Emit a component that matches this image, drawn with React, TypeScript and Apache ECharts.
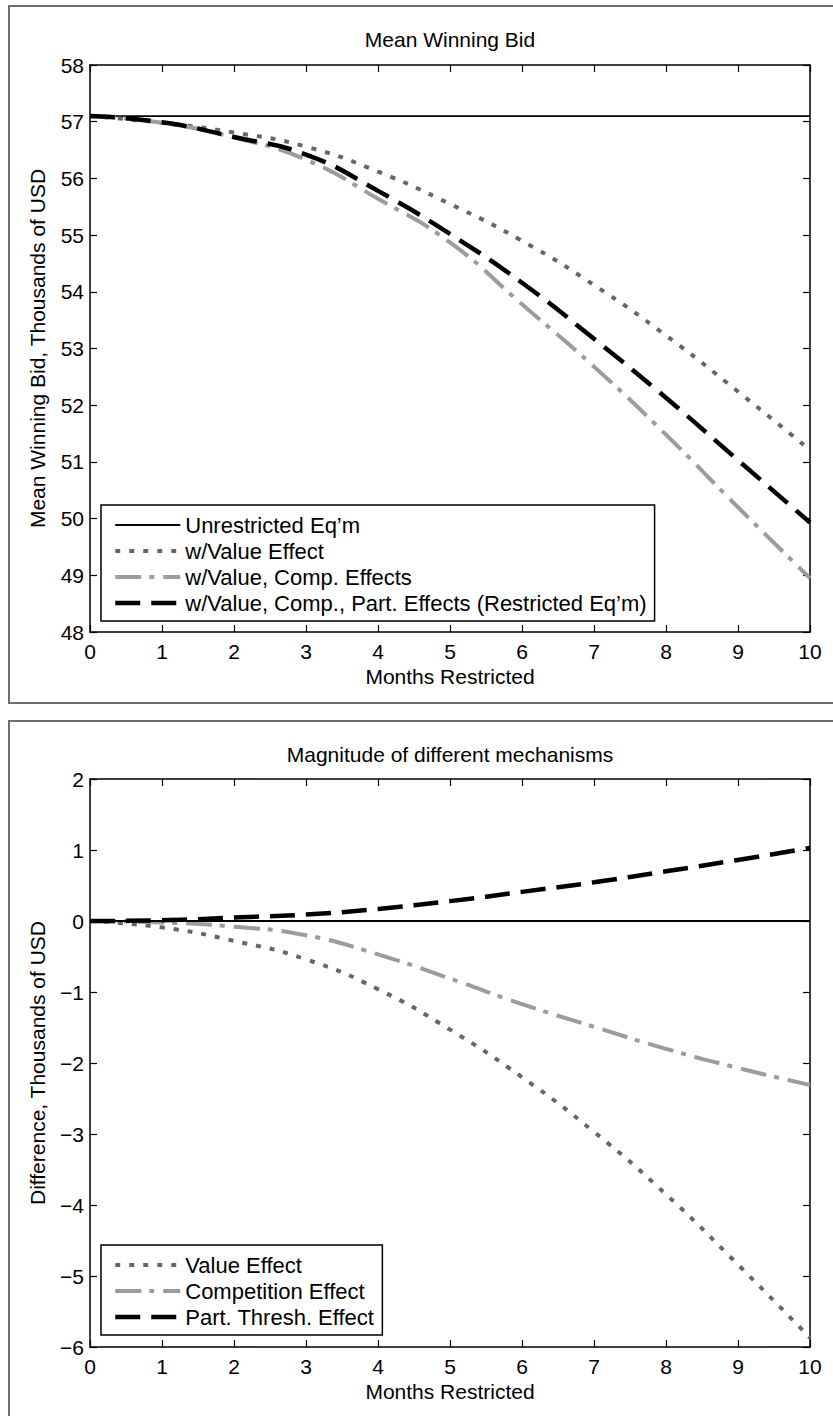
import React, { useEffect, useRef } from "react";
import * as echarts from "echarts";

// Months of restriction (x values shared by both panels)
const months = [0, 1, 2, 3, 4, 5, 6, 7, 8, 9, 10];

// Panel 1: mean winning bid, thousands of USD
const unrestricted = [57.1, 57.1, 57.1, 57.1, 57.1, 57.1, 57.1, 57.1, 57.1, 57.1, 57.1];
const withValue = [57.1, 56.98, 56.81, 56.56, 56.12, 55.55, 54.9, 54.12, 53.23, 52.24, 51.21];
const withValueComp = [57.1, 56.98, 56.72, 56.33, 55.64, 54.87, 53.78, 52.68, 51.48, 50.2, 48.95];
const restrictedEqm = [57.1, 56.99, 56.73, 56.42, 55.78, 55.02, 54.16, 53.17, 52.13, 51.03, 49.93];

// Panel 2: magnitude of the separate mechanisms, thousands of USD
const valueEffect = [0, -0.09, -0.28, -0.54, -0.96, -1.53, -2.2, -2.97, -3.85, -4.84, -5.87];
const competitionEffect = [0, -0.02, -0.08, -0.2, -0.47, -0.81, -1.17, -1.49, -1.8, -2.07, -2.31];
const partThreshEffect = [0, 0.01, 0.05, 0.09, 0.17, 0.28, 0.41, 0.545, 0.7, 0.86, 1.03];

const xTicks = { min: 0, max: 10, interval: 1 };
const y1Ticks = { min: 48, max: 58, interval: 1 };
const y2Ticks = { min: -6, max: 2, interval: 1 };

const FONT = "'Liberation Sans', Arial, Helvetica, sans-serif";

const pairs = (ys: number[]) => months.map((m, i) => [m, ys[i]]);

const solidBlack = { color: "#000", width: 1.8, type: "solid" as const };
const dottedGray = { color: "#666666", width: 4, type: [5, 9] };
const dashDotGray = { color: "#9c9c9c", width: 4, type: [26, 8, 5, 9] };
const dashedBlack = { color: "#000", width: 4.5, type: [25, 11] };

export default function App() {
  const ref = useRef<HTMLDivElement>(null);

  useEffect(() => {
    if (!ref.current) return;
    const chart = echarts.init(ref.current, undefined, { renderer: "svg" });

    const axisLine = { show: true, onZero: false, lineStyle: { color: "#000", width: 1.5 } };
    const tick = { show: true, inside: true, length: 7, lineStyle: { color: "#000", width: 1.2 } };
    const tickLabel = { fontSize: 21, color: "#000", fontFamily: FONT };
    const minus = (v: number) => String(v).replace("-", "\u2212");

    const xAxisPair = (gridIndex: number) => [
      {
        gridIndex,
        type: "value",
        position: "bottom",
        ...xTicks,
        axisLine,
        axisTick: tick,
        splitLine: { show: false },
        axisLabel: { ...tickLabel, margin: 9 },
        name: "Months Restricted",
        nameLocation: "middle",
        nameGap: 34,
        nameTextStyle: { fontSize: 21, color: "#000", fontFamily: FONT },
      },
      {
        gridIndex,
        type: "value",
        position: "top",
        ...xTicks,
        axisLine,
        axisTick: tick,
        splitLine: { show: false },
        axisLabel: { show: false },
      },
    ];

    const yAxisPair = (gridIndex: number, range: any, name: string) => [
      {
        gridIndex,
        type: "value",
        position: "left",
        ...range,
        axisLine,
        axisTick: tick,
        splitLine: { show: false },
        axisLabel: { ...tickLabel, margin: 6, formatter: minus },
        name,
        nameLocation: "middle",
        nameGap: 42,
        nameTextStyle: { fontSize: 21, color: "#000", fontFamily: FONT },
      },
      {
        gridIndex,
        type: "value",
        position: "right",
        ...range,
        axisLine,
        axisTick: tick,
        splitLine: { show: false },
        axisLabel: { show: false },
      },
    ];

    const lineSeries = (name: string, ys: number[], style: any, axisIdx: number, extra: any = {}) => ({
      name,
      type: "line",
      xAxisIndex: axisIdx,
      yAxisIndex: axisIdx,
      data: pairs(ys),
      symbol: "none",
      showSymbol: false,
      smooth: 0.5,
      lineStyle: { ...style, cap: "butt" },
      itemStyle: { color: style.color },
      emphasis: { disabled: true },
      ...extra,
    });

    const legendBase = {
      orient: "vertical",
      itemWidth: 65,
      itemHeight: 14,
      itemGap: 4,
      padding: [9, 8, 7, 12],
      borderColor: "#000",
      borderWidth: 1.5,
      backgroundColor: "#fff",
      selectedMode: false,
      textStyle: { fontSize: 22, color: "#000", fontFamily: FONT },
      itemStyle: { opacity: 0 },
      lineStyle: { width: "inherit", type: "inherit", color: "inherit", opacity: 1 },
    };

    const namesTop = [
      "Unrestricted Eq\u2019m",
      "w/Value Effect",
      "w/Value, Comp. Effects",
      "w/Value, Comp., Part. Effects (Restricted Eq\u2019m)",
    ];
    const namesBottom = ["Value Effect", "Competition Effect", "Part. Thresh. Effect"];

    chart.setOption({
      animation: false,
      backgroundColor: "#fff",
      textStyle: { fontFamily: FONT },
      grid: [
        { left: 90, right: 23, top: 65, height: 567, containLabel: false },
        { left: 90, right: 23, top: 779, height: 568, containLabel: false },
      ],
      xAxis: [...xAxisPair(0), ...xAxisPair(1)],
      yAxis: [
        ...yAxisPair(0, y1Ticks, "Mean Winning Bid, Thousands of USD"),
        ...yAxisPair(1, y2Ticks, "Difference, Thousands of USD"),
      ],
      legend: [
        { ...legendBase, left: 101, top: 505, data: namesTop },
        { ...legendBase, left: 101, top: 1245, data: namesBottom },
      ],
      graphic: [
        {
          type: "rect",
          silent: true,
          z: -10,
          shape: { x: 9, y: 6, width: 840, height: 697 },
          style: { fill: "none", stroke: "#6e6e6e", lineWidth: 2 },
        },
        {
          type: "rect",
          silent: true,
          z: -10,
          shape: { x: 9, y: 721, width: 840, height: 720 },
          style: { fill: "none", stroke: "#6e6e6e", lineWidth: 2 },
        },
        {
          type: "text",
          silent: true,
          x: 450,
          y: 39,
          style: {
            text: "Mean Winning Bid",
            font: `21px ${FONT}`,
            fill: "#000",
            align: "center",
            verticalAlign: "middle",
          },
        },
        {
          type: "text",
          silent: true,
          x: 450,
          y: 754,
          style: {
            text: "Magnitude of different mechanisms",
            font: `21px ${FONT}`,
            fill: "#000",
            align: "center",
            verticalAlign: "middle",
          },
        },
      ],
      series: [
        lineSeries(namesTop[0], unrestricted, solidBlack, 0, { smooth: false }),
        lineSeries(namesTop[1], withValue, dottedGray, 0),
        lineSeries(namesTop[2], withValueComp, dashDotGray, 0),
        lineSeries(namesTop[3], restrictedEqm, dashedBlack, 0),
        lineSeries(namesBottom[0], valueEffect, dottedGray, 2, {
          markLine: {
            silent: true,
            symbol: "none",
            label: { show: false },
            lineStyle: { color: "#000", width: 1.8, type: "solid" },
            data: [{ yAxis: 0 }],
          },
        }),
        lineSeries(namesBottom[1], competitionEffect, dashDotGray, 2),
        lineSeries(namesBottom[2], partThreshEffect, dashedBlack, 2),
      ],
    });

    return () => chart.dispose();
  }, []);

  return (
    <div
      ref={ref}
      style={{ position: "absolute", left: 0, top: 0, width: 833, height: 1416, background: "#fff" }}
    />
  );
}
